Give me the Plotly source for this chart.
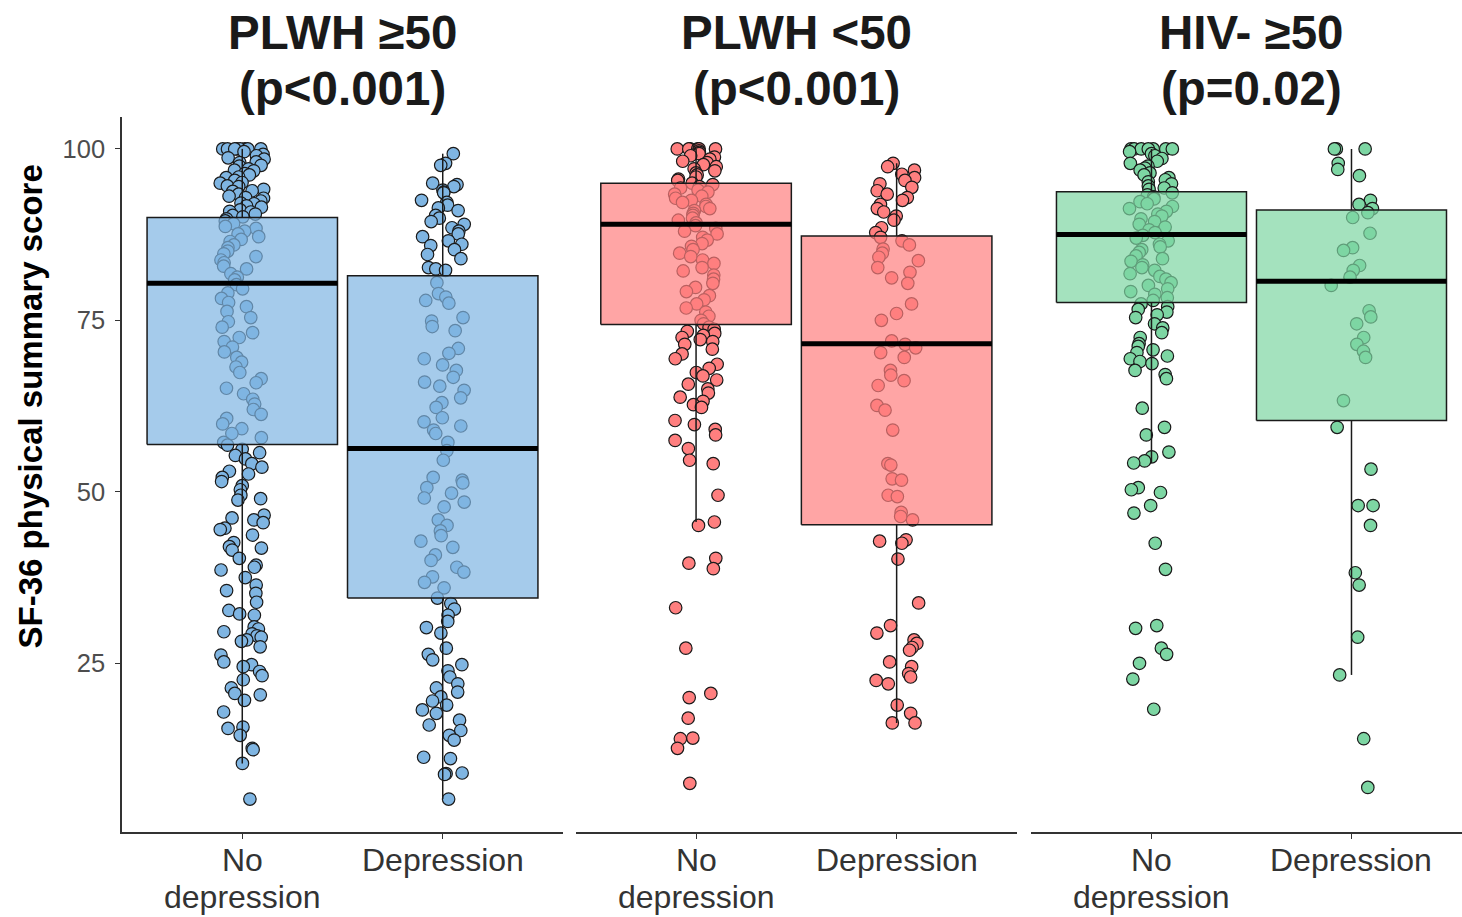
import math
import plotly.graph_objects as go

# ---------------- data ----------------
category_labels = ["No<br>depression", "Depression"]
category_pos = [1, 2]
panel_titles = ["PLWH ≥50", "PLWH <50", "HIV- ≥50"]
panel_pvalues = ["(p<0.001)", "(p<0.001)", "(p=0.02)"]
y_ticks = [25, 50, 75, 100]

plwh50_nodep = [
    100, 100, 100, 100, 100, 100, 100, 100, 99.6, 99.2, 99.0, 98.7, 98.5, 98.1, 98.0, 97.6,
    97.5, 97.1, 96.9, 96.8, 96.4, 96.2, 95.9, 95.8, 95.4, 95.1, 95.0, 94.6, 94.5, 94.1, 93.9,
    93.8, 93.4, 93.1, 92.9, 92.8, 92.4, 92.1, 92.0, 91.7, 91.5, 91.1, 90.9, 90.8, 90.5, 90.3, 90.1,
    89.8, 89.5, 89.1, 88.7, 88.4, 88.0, 87.6, 87.2, 86.8, 86.5, 86.0, 85.6, 85.1, 84.7, 84.3,
    83.8, 83.4, 82.9, 82.5, 81.8, 81.3, 80.9, 80.2, 79.6, 79.0, 78.2, 77.6, 77.0, 76.3, 75.4,
    74.8, 74.0, 73.2, 72.5, 71.9, 71.1, 70.4, 69.6, 68.9, 68.2, 67.4, 66.5, 65.9, 65.1, 64.3,
    63.5, 62.8, 62.0, 61.3, 60.7, 59.9, 59.2, 58.5, 57.9, 57.2,
    56.8, 56.2, 55.7, 55.3, 54.8, 54.1, 53.6, 53.0, 52.6, 52.1, 51.5, 50.9, 50.3,
    49.5, 49.0, 48.8, 46.6, 46.2, 45.9, 45.5, 44.7, 44.5, 43.7, 42.6, 42.0, 41.8, 41.5, 40.3,
    39.3, 39.0, 38.6, 37.5, 36.4, 35.6, 35.2, 33.9, 32.7, 32.2, 32.0, 30.3, 30.0, 29.6, 29.3,
    29.0, 28.8, 28.4, 28.2, 27.4, 26.2, 25.2, 24.8, 24.5, 23.8, 23.2, 22.6, 21.4, 20.6, 20.4,
    19.6, 17.9, 15.7, 15.5, 14.5, 12.6, 12.4, 10.4, 5.2,
]
plwh50_dep = [
    99.3, 97.9, 97.6, 95.0, 94.8, 94.5, 94.0, 93.7, 93.6, 92.5, 92.2, 91.8, 91.4, 91.0, 90.3,
    89.9, 89.4, 89.0, 88.5, 88.0, 87.6, 87.2, 86.6, 86.1, 85.9, 85.3, 84.6, 84.0, 82.7, 82.5, 82.3,
    80.5, 78.9, 78.4, 77.9, 77.5, 75.4, 74.9, 74.1, 73.5, 70.9, 70.2, 69.4, 68.5, 67.7, 66.7,
    66.0, 65.4, 64.8, 63.7, 63.0, 62.3, 60.8, 60.2, 59.6, 59.0, 58.5, 57.2, 56.0, 54.6, 52.1,
    51.7, 51.3, 50.6, 49.8, 49.1, 48.5, 47.8, 45.9, 45.1, 44.3, 43.6, 42.8, 41.9, 40.8, 40.0,
    39.0, 38.3, 37.6, 36.8, 36.0, 34.5, 33.7, 32.9, 32.0, 31.1, 30.2, 29.4, 27.2, 26.3, 25.5,
    24.8, 23.9, 23.0, 22.0, 21.4, 20.8, 20.1, 19.5, 18.9, 18.2, 17.7, 16.7, 16.0, 15.2, 14.5,
    13.8, 11.3, 11.1, 9.0, 8.9, 8.8, 5.2,
]
plwh_young_nodep = [
    100, 100, 100, 100, 100, 100, 99.7, 99.5, 99.3, 99.0, 98.8, 98.5, 98.2, 98.0, 97.7, 97.4,
    97.1, 96.8, 96.5, 96.2, 95.9, 95.6, 95.4,
    95.0, 94.8, 94.5, 94.3, 94.0, 93.7, 93.4, 93.1, 92.8, 92.5, 92.2, 91.9, 91.6, 91.3, 91.0,
    90.6, 90.3, 89.9, 89.6, 89.2, 88.8, 88.4, 88.0, 87.6, 87.1, 86.7, 86.2, 85.8, 85.3, 84.8,
    84.3, 83.8, 83.3, 82.7, 82.2, 81.6, 81.0, 80.4, 79.8, 79.2, 78.6, 78.0, 77.4, 76.8, 76.2,
    75.6, 75.0, 74.5,
    74.0, 73.7, 73.4, 73.1, 72.8, 72.5, 72.2, 71.9, 71.5, 70.8, 70.1, 69.4, 68.6, 68.0, 67.4,
    66.9, 66.3, 65.7, 65.0, 64.4, 63.8, 63.2, 62.7, 62.3, 60.4, 59.8, 59.1, 58.3, 57.5, 56.3,
    54.6, 54.1, 49.5, 45.6, 45.1, 40.3, 39.6, 38.8, 33.1, 27.2, 20.6, 20.0, 17.0, 14.1, 14.0,
    12.6, 7.5,
]
plwh_young_dep = [
    97.9, 97.4, 96.9, 96.3, 95.8, 95.4, 94.9, 94.4, 93.9, 93.4, 92.9, 92.5, 91.9, 91.3, 90.8,
    90.2, 89.6, 88.5, 87.8, 87.1, 86.6, 86.0, 85.4, 84.8, 84.2, 83.7, 82.7, 82.0, 81.2, 80.4,
    77.4, 76.0, 75.0, 72.0, 71.5, 71.0, 70.3, 69.6, 67.7, 67.0, 66.2, 65.5, 62.6, 61.9, 59.0,
    54.1, 53.9, 51.9, 51.7, 49.5, 49.3, 47.0, 46.4, 45.9, 43.0, 42.8, 42.5, 40.2, 33.8, 30.5,
    29.4, 28.4, 27.9, 27.3, 26.9, 25.2, 24.5, 23.5, 23.0, 22.5, 22.0, 18.9, 17.7, 16.3, 16.3,
]
hivneg50_nodep = [
    100, 100, 100, 100, 100, 100, 100, 99.6, 99.3, 99.0, 98.6, 98.2, 97.9, 97.5, 97.2, 96.9,
    96.5, 96.2, 95.8, 95.5, 95.2, 94.9, 94.6, 94.3, 94.1,
    93.6, 93.3, 93.0, 92.7, 92.3, 92.0, 91.6, 91.3, 90.9, 90.5, 90.2, 89.8, 89.4, 89.0, 88.6,
    88.2, 87.8, 87.4, 87.0, 86.6, 86.1, 85.7, 85.3, 84.9, 84.4, 84.0, 83.6, 83.1, 82.7, 82.3,
    81.8, 81.4, 81.0, 80.5, 80.1, 79.6, 79.2, 78.8, 78.3, 77.9,
    77.4, 77.0, 76.6, 76.2, 75.8, 75.4, 74.5, 73.9, 73.2, 72.5, 71.6, 71.2, 70.7, 70.3, 69.8,
    69.4, 69.0, 68.7, 67.7, 67.1, 66.5, 62.2, 59.4, 58.3, 55.8, 55.1, 54.5, 54.2, 50.6, 50.3,
    49.9, 48.0, 46.9, 42.5, 38.7, 30.5, 30.1, 27.2, 26.3, 25.0, 22.7, 18.3,
]
hivneg50_dep = [
    100, 100, 100, 97.9, 97.0, 96.1, 92.5, 91.9, 91.3, 90.7, 90.0, 87.7, 85.6, 85.2, 83.0,
    82.3, 81.3, 80.1, 76.4, 75.5, 74.5, 72.5, 71.5, 70.5, 69.6, 63.3, 59.4, 53.3, 48.0, 48.0,
    45.1, 38.2, 36.4, 28.8, 23.3, 14.0, 6.9,
]

# box statistics per panel: [No depression, Depression]
box_q1 = [[56.9, 34.5], [74.4, 45.2], [77.6, 60.4]]
box_median = [[80.4, 56.3], [89.0, 71.6], [87.5, 80.7]]
box_q3 = [[90.0, 81.5], [95.0, 87.3], [93.75, 91.1]]
box_lower = [[10.4, 5.2], [45.6, 16.3], [54.2, 23.3]]
box_upper = [[100, 99.3], [100, 97.9], [100, 100]]

panel_points = [
    [plwh50_nodep, plwh50_dep],
    [plwh_young_nodep, plwh_young_dep],
    [hivneg50_nodep, hivneg50_dep],
]

# ---------------- styling ----------------
point_colors = ["#7FB5E2", "#FF7F7F", "#7DD6A3"]
box_fills = ["rgba(127,181,226,0.70)", "rgba(255,127,127,0.70)", "rgba(125,214,163,0.70)"]
x_domains = [[0.0, 0.3291], [0.3386, 0.6679], [0.6787, 1.0]]
x_ranges = [[0.4, 2.6], [0.4, 2.6], [0.4, 2.5525]]
BOX_HALF = 0.475
JITTER = 0.11
FONT = "Liberation Sans, Arial, sans-serif"
EDGE = "#1a1a1a"
LABEL_LINE_Y = [-0.0387, -0.0909]   # paper y of the 1st / 2nd line of x labels


def jitter(i, seed):
    v = math.sin((i + 1) * 12.9898 + seed * 78.233) * 43758.5453
    return (v - math.floor(v)) * 2 - 1


fig = go.Figure()

# points first
for p in range(3):
    xa = "x" if p == 0 else f"x{p + 1}"
    ya = "y" if p == 0 else f"y{p + 1}"
    for k in range(2):
        vals = panel_points[p][k]
        xs = [category_pos[k] + JITTER * jitter(i, p * 2 + k) for i in range(len(vals))]
        fig.add_trace(go.Scatter(
            x=xs, y=vals, mode="markers", xaxis=xa, yaxis=ya, hoverinfo="skip",
            marker=dict(size=12.5, color=point_colors[p], line=dict(color=EDGE, width=1.2)),
        ))

# boxes drawn over the points
for p in range(3):
    xa = "x" if p == 0 else f"x{p + 1}"
    ya = "y" if p == 0 else f"y{p + 1}"
    for k in range(2):
        c = category_pos[k]
        # whiskers
        fig.add_trace(go.Scatter(
            x=[c, c, None, c, c],
            y=[box_lower[p][k], box_q1[p][k], None, box_q3[p][k], box_upper[p][k]],
            mode="lines", xaxis=xa, yaxis=ya, hoverinfo="skip",
            line=dict(color=EDGE, width=1.5),
        ))
        # box
        fig.add_trace(go.Scatter(
            x=[c - BOX_HALF, c + BOX_HALF, c + BOX_HALF, c - BOX_HALF, c - BOX_HALF],
            y=[box_q1[p][k], box_q1[p][k], box_q3[p][k], box_q3[p][k], box_q1[p][k]],
            mode="lines", fill="toself", fillcolor=box_fills[p], xaxis=xa, yaxis=ya,
            hoverinfo="skip", line=dict(color=EDGE, width=1.5),
        ))
        # median
        fig.add_trace(go.Scatter(
            x=[c - BOX_HALF, c + BOX_HALF], y=[box_median[p][k], box_median[p][k]],
            mode="lines", xaxis=xa, yaxis=ya, hoverinfo="skip",
            line=dict(color="#000000", width=5),
        ))

layout = dict(
    width=1462, height=917,
    margin=dict(l=122, r=0, t=117, b=85, autoexpand=False),
    paper_bgcolor="white", plot_bgcolor="white",
    showlegend=False,
    font=dict(family=FONT, color="#1a1a1a"),
)

for p in range(3):
    suffix = "" if p == 0 else str(p + 1)
    layout["xaxis" + suffix] = dict(
        domain=x_domains[p], range=x_ranges[p], anchor="y" + suffix, automargin=False,
        tickmode="array", tickvals=category_pos, showticklabels=False,
        ticks="outside", ticklen=5, tickwidth=1.2, tickcolor="#333333",
        showline=True, linecolor="#333333", linewidth=1.5,
        showgrid=False, zeroline=False,
    )
    if p == 0:
        layout["yaxis"] = dict(
            range=[0.4, 104.65], anchor="x", automargin=False,
            tickmode="array", tickvals=y_ticks,
            ticks="outside", ticklen=5, tickwidth=1.2, tickcolor="#333333",
            showline=True, linecolor="#333333", linewidth=1.5,
            showgrid=False, zeroline=False, ticklabelstandoff=5,
            tickfont=dict(size=25.5, color="#4d4d4d", family=FONT),
        )
    else:
        layout["yaxis" + suffix] = dict(
            matches="y", anchor="x" + suffix, range=[0.4, 104.65], automargin=False,
            showline=False, showticklabels=False, ticks="",
            showgrid=False, zeroline=False,
        )

annotations = []
for p in range(3):
    xr = "x" if p == 0 else f"x{p + 1}"
    annotations.append(dict(
        text="<b>" + panel_titles[p].replace("<", "&lt;") + "</b>",
        xref=xr, yref="paper", x=1.5, y=1.1175, xanchor="center", yanchor="middle",
        showarrow=False, font=dict(size=47.5, color="#1a1a1a", family=FONT),
    ))
    annotations.append(dict(
        text="<b>" + panel_pvalues[p].replace("<", "&lt;") + "</b>",
        xref=xr, yref="paper", x=1.5, y=1.0405, xanchor="center", yanchor="middle",
        showarrow=False, font=dict(size=47.5, color="#1a1a1a", family=FONT),
    ))
    # category labels (one annotation per text line, ggplot-like line spacing)
    for k in range(2):
        for li, line in enumerate(category_labels[k].split("<br>")):
            annotations.append(dict(
                text=line, xref=xr, yref="paper", x=category_pos[k], y=LABEL_LINE_Y[li],
                xanchor="center", yanchor="middle", showarrow=False,
                font=dict(size=32, color="#333333", family=FONT),
            ))
annotations.append(dict(
    text="<b>SF-36 physical summary score</b>", textangle=-90,
    xref="paper", yref="paper", x=-0.0686, y=0.5953, xanchor="center", yanchor="middle",
    showarrow=False, font=dict(size=33, color="#000000", family=FONT),
))
layout["annotations"] = annotations

fig.update_layout(**layout)
fig.write_html("out.html")
